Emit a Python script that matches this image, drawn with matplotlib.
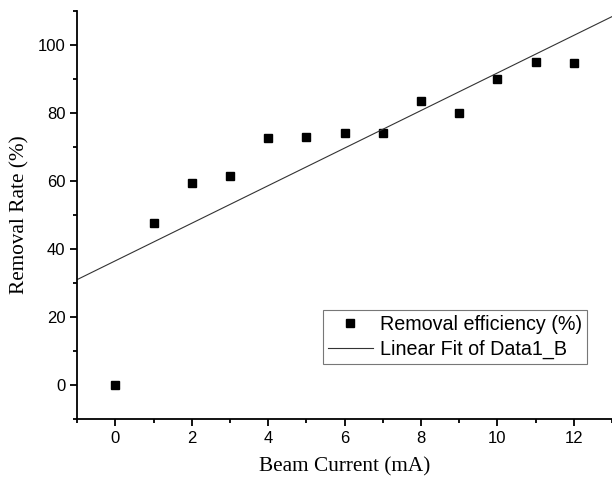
import numpy as np
import matplotlib.pyplot as plt
from matplotlib.ticker import MultipleLocator

# beam current (mA) and removal efficiency (%)
current = [0, 1, 2, 3, 4, 5, 6, 7, 8, 9, 10, 11, 12]
removal = [0, 47.7, 59.2, 61.5, 72.5, 73.0, 74.0, 74.0, 83.5, 80.0, 89.9, 94.8, 94.6]

# linear fit of the data
slope, intercept = np.polyfit(current, removal, 1)
fit_x = np.array([-1, 13])
fit_y = slope * fit_x + intercept

fig = plt.figure(figsize=(6.12, 4.8), dpi=100)
ax = fig.add_axes([0.126, 0.127, 0.874, 0.851])

ax.plot(current, removal, ls='none', marker='s', markersize=5.2, color='black',
	label='Removal efficiency (%)')
ax.plot(fit_x, fit_y, color='#333333', lw=0.8, label='Linear Fit of Data1_B')

ax.set_xlim(-1, 13)
ax.set_ylim(-10, 110)
ax.xaxis.set_major_locator(MultipleLocator(2))
ax.xaxis.set_minor_locator(MultipleLocator(1))
ax.yaxis.set_major_locator(MultipleLocator(20))
ax.yaxis.set_minor_locator(MultipleLocator(10))

ax.spines['top'].set_visible(False)
ax.spines['right'].set_visible(False)
ax.spines['left'].set_linewidth(1.3)
ax.spines['bottom'].set_linewidth(1.3)
ax.tick_params(which='major', direction='out', length=5, width=1.3, labelsize=12)
ax.tick_params(which='minor', direction='out', length=3, width=1.3)
for lab in ax.get_xticklabels() + ax.get_yticklabels():
	lab.set_fontfamily('Liberation Sans')

ax.set_xlabel('Beam Current (mA)', fontfamily='Liberation Serif', fontsize=15.3, labelpad=8)
ax.set_ylabel('Removal Rate (%)', fontfamily='Liberation Serif', fontsize=15.3, labelpad=6)

leg = ax.legend(loc='lower right', bbox_to_anchor=(0.953, 0.135), frameon=True, fancybox=False,
	prop={'family': 'Liberation Sans', 'size': 14.2}, handlelength=2.3,
	handletextpad=0.35, borderpad=0.25, labelspacing=0.3, borderaxespad=0)
leg.get_frame().set_edgecolor('#555555')
leg.get_frame().set_linewidth(0.8)

plt.savefig('out.png', dpi=100)
